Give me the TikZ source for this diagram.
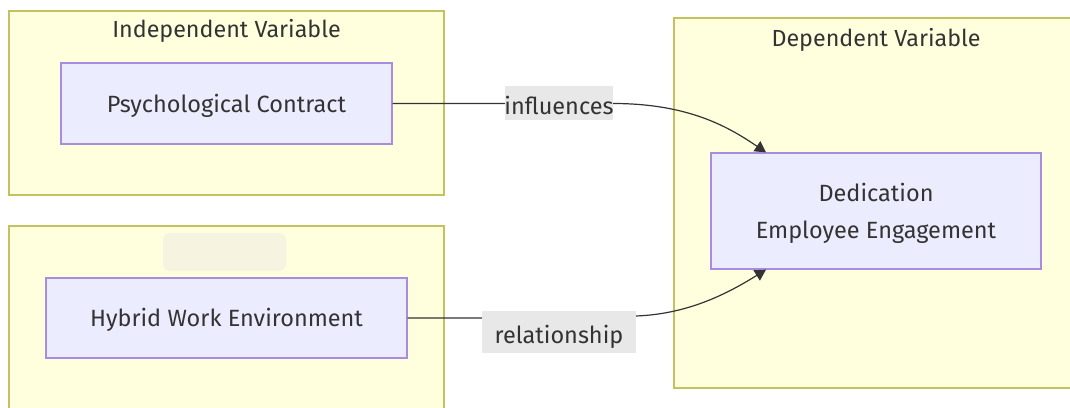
\documentclass[tikz,border=0pt]{standalone}
\usepackage{fontspec}
\setmainfont{Fira Sans}
\usepackage{tikz}
\usepackage{xcolor}
\usetikzlibrary{arrows.meta}
\definecolor{cluster-fill}{HTML}{FFFFDE}
\definecolor{cluster-line}{HTML}{C2C261}
\definecolor{node-fill}{HTML}{ECECFF}
\definecolor{node-line}{HTML}{A98BE0}
\definecolor{label-fill}{HTML}{E8E8E8}
\definecolor{title-fill}{HTML}{F6F4E1}
\definecolor{ink}{HTML}{333333}
\tikzset{
    cluster-box/.style = {draw=cluster-line, fill=cluster-fill, line width=1.3pt},
    cluster-title/.style = {text=ink, font=\fontsize{23.3}{28}\selectfont},
    var-box/.style = {draw=node-line, fill=node-fill, line width=1.3pt, rectangle, text=ink, font=\fontsize{23.5}{28}\selectfont, align=center, text depth=1pt},
    edge-label/.style = {fill=label-fill, inner sep=0pt},
    edge-text/.style = {text=ink, font=\fontsize{23.5}{28}\selectfont, inner sep=0pt},
    flow/.style = {draw=ink, line width=1.2pt, -{Triangle[length=11pt,width=12pt]}},
}

\begin{document}
\begin{tikzpicture}[x=1pt, y=-1pt]
\useasboundingbox (0,0) rectangle (1070,407);
% clusters
\draw[cluster-box] (9,11) rectangle (444,195);
\node[cluster-title] (indep-title) at (226.5,30.5) {Independent Variable};
\draw[cluster-box] (9,226) rectangle (444,415);
\fill[title-fill, rounded corners=7pt] (163,233) rectangle (286,271);
\draw[cluster-box] (674,18) rectangle (1078,388);
\node[cluster-title] (dep-title) at (876,39.5) {Dependent Variable};

% variables
\node[var-box, minimum width=331pt, minimum height=81pt] (psych) at (226.5,103.5) {Psychological Contract};
\node[var-box, minimum width=361pt, minimum height=80pt] (hybrid) at (226.5,318) {Hybrid Work Environment};
\node[var-box, minimum width=330pt, minimum height=116pt] (engage) at (876,211) {Dedication\\[9pt]Employee Engagement};

% connectors
\coordinate (engage-in1) at ([xshift=-110pt]engage.north);
\coordinate (engage-in2) at ([xshift=-110pt]engage.south);
\draw[flow] (psych.east) -- (613,103.5) .. controls (690,103.5) and (730,128) .. (engage-in1);
\draw[flow] (hybrid.east) -- (560,318) -- (636,316) .. controls (690,314) and (730,292) .. (engage-in2);
\node[edge-label, minimum width=108pt, minimum height=34pt,
      label={[edge-text, yshift=-2pt]center:influences}] (lab-influences) at (559,103) {};
\node[edge-label, minimum width=154pt, minimum height=42pt,
      label={[edge-text, yshift=-5pt]center:relationship}] (lab-relationship) at (559,332) {};
\end{tikzpicture}
\end{document}
